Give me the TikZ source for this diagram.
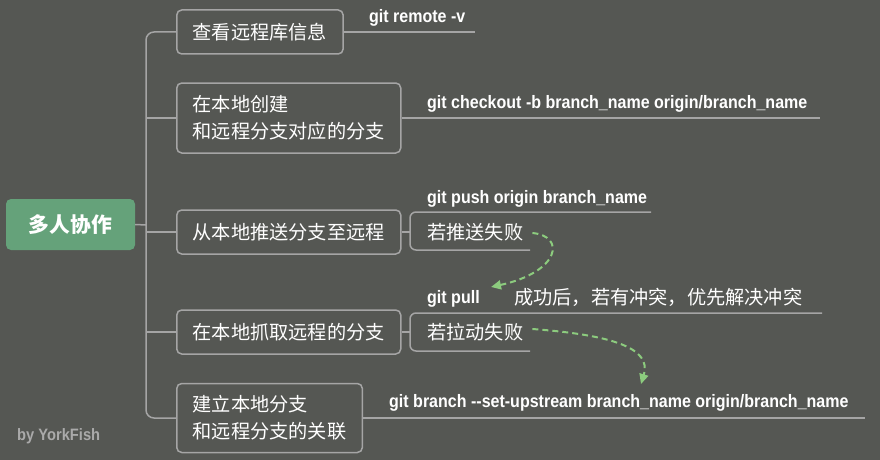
\documentclass[tikz,border=0pt]{standalone}
\usepackage{fontspec}
\newfontfamily\cjk{Noto Sans CJK SC}
\newfontfamily\gitfont[FakeStretch=0.89]{Liberation Sans}
\usetikzlibrary{arrows.meta}
\definecolor{bg}{RGB}{85,87,83}
\definecolor{rootgreen}{RGB}{101,162,122}
\definecolor{linegray}{RGB}{165,165,165}
\definecolor{arrowgreen}{RGB}{140,203,126}
\definecolor{credit}{RGB}{170,170,170}
\begin{document}
\begin{tikzpicture}[x=1pt,y=-1pt,
  topic/.style={draw=linegray, line width=1.5pt, rounded corners=5pt, text=white,
    font=\cjk\fontsize{19.2}{27}\selectfont, align=left, inner xsep=16pt, inner ysep=0pt, anchor=west},
  conn/.style={draw=linegray, line width=1.5pt},
  cmd/.style={text=white, font=\gitfont\bfseries\fontsize{18}{20}\selectfont, inner sep=0pt, anchor=base west},
  note/.style={text=white, font=\cjk\fontsize{19.2}{24}\selectfont, inner sep=0pt, anchor=west},
  relarrow/.style={draw=arrowgreen, line width=2pt, dash pattern=on 6pt off 4pt,
    -{Triangle[length=10pt,width=9pt,fill=arrowgreen]}}
]
\fill[bg] (0,0) rectangle (880,460);
\useasboundingbox (0,0) rectangle (880,460);

% root
\node[fill=rootgreen, rounded corners=5pt, minimum width=129pt, minimum height=51pt, inner sep=0pt,
  text=white, font=\cjk\bfseries\fontsize{20.8}{24}\selectfont] (root) at (70.5,224.5) {多人协作};

% main topics
\node[topic, minimum height=44pt] (b1) at (176,32) {查看远程库信息};
\node[topic, minimum height=70pt] (b2) at (176,118) {在本地创建\\和远程分支对应的分支};
\node[topic, minimum height=44pt] (b3) at (176,232) {从本地推送分支至远程};
\node[topic, minimum height=44pt] (b4) at (176,332) {在本地抓取远程的分支};
\node[topic, minimum height=69pt] (b5) at (176,418) {建立本地分支\\和远程分支的关联};

% tree connectors
\coordinate (spine) at (146,225);
\draw[conn] (root.east) -- (spine);
\draw[conn, rounded corners=8pt] (b1.west) -- (146,32) -- (146,418) -- (b5.west);
\draw[conn] (146,118) -- (b2.west);
\draw[conn] (146,232) -- (b3.west);
\draw[conn] (146,332) -- (b4.west);

% commands and notes
\node[cmd] (c1) at (369,23) {git remote -v};
\node[cmd] (c2) at (427,108) {git checkout -b branch\_name origin/branch\_name};
\node[cmd] (c3) at (427,203) {git push origin branch\_name};
\node[note] (f1) at (427,232) {若推送失败};
\node[cmd] (c4) at (427,303) {git pull};
\node[note] (n4) at (514,297) {成功后，若有冲突，优先解决冲突};
\node[note] (f2) at (427,332) {若拉动失败};
\node[cmd] (c5) at (389,407) {git branch -\kern0pt-set-upstream branch\_name origin/branch\_name};

% underlines
\coordinate (u1) at (475,32);
\coordinate (u2) at (820,118);
\coordinate (u5) at (865,418);
\draw[conn] (b1.east) -- (u1);
\draw[conn] (b2.east) -- (u2);
\draw[conn] (b5.east) -- (u5);

\coordinate (k3) at (410,232);
\coordinate (u3a) at (651,212);
\coordinate (u3b) at (530,250);
\draw[conn] (b3.east) -- (k3);
\draw[conn, rounded corners=6pt] (u3a) -- (410,212) -- (410,250) -- (u3b);

\coordinate (k4) at (410,332);
\coordinate (u4a) at (822,313);
\coordinate (u4b) at (530,351);
\draw[conn] (b4.east) -- (k4);
\draw[conn, rounded corners=6pt] (u4a) -- (410,313) -- (410,351) -- (u4b);

% dashed relationship arrows
\coordinate (a1e) at (491,287);
\coordinate (a2e) at (641,384);
\draw[relarrow] ([xshift=9pt,yshift=-1pt]f1.east) .. controls (566,236) and (560,272) .. (a1e);
\draw[relarrow] ([xshift=9pt,yshift=3pt]f2.east) .. controls (612,335) and (652,348) .. (a2e);

% credit
\node[inner sep=0pt, anchor=base west, text=credit, font=\gitfont\bfseries\fontsize{16.5}{18}\selectfont] (by) at (17,440) {by YorkFish};
\end{tikzpicture}
\end{document}
